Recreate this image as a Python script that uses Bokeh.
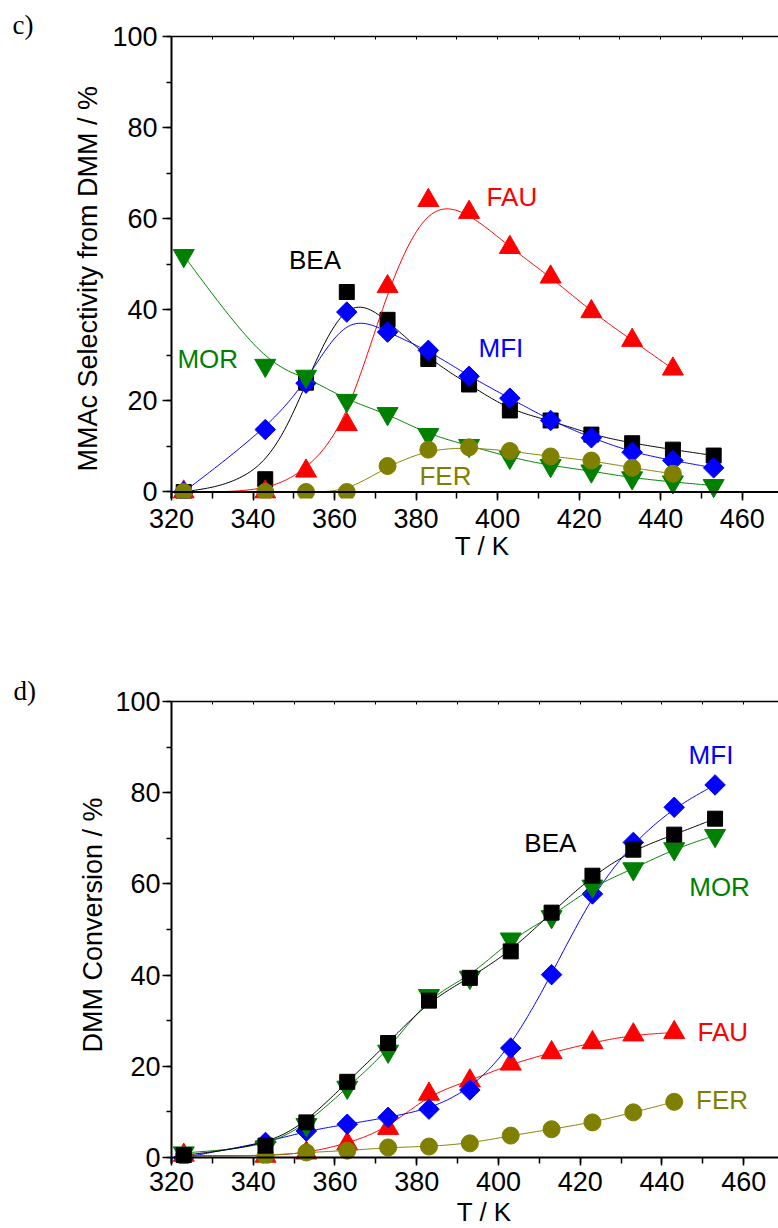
import numpy as np
from bokeh.plotting import figure
from bokeh.models import Range1d, SingleIntervalTicker, FixedTicker, LinearAxis, Span, Label, Title
from bokeh.layouts import column
from bokeh.embed import file_html
from bokeh.resources import INLINE

# ---------------- data ----------------
T = [323, 343, 353, 363, 373, 383, 393, 403, 413, 423, 433, 443, 453]

# c) MMAc selectivity from DMM / %
sel_BEA = [0.0, 2.8, 24.0, 43.9, 37.8, 29.2, 23.6, 17.9, 15.7, 12.6, 10.7, 9.3, 8.0]
sel_FAU = [0.0, 0.0, 4.6, 14.8, 45.1, 64.0, 61.4, 53.7, 47.2, 39.6, 33.3, 27.0]
sel_MFI = [0.0, 13.7, 23.9, 39.5, 35.1, 31.1, 25.4, 20.6, 15.7, 11.9, 8.7, 6.9, 5.3]
sel_MOR = [51.9, 27.8, 25.4, 20.1, 17.2, 12.6, 10.2, 7.6, 5.8, 4.6, 3.1, 2.2, 1.4]
sel_FER = [0.0, 0.0, 0.0, 0.0, 5.7, 9.3, 9.8, 9.0, 7.8, 6.9, 5.3, 4.0]

# d) DMM conversion / %
conv_BEA = [0.5, 2.6, 7.7, 16.6, 25.1, 34.4, 39.4, 45.2, 53.7, 61.8, 67.5, 70.8, 74.3]
conv_MOR = [1.0, 2.3, 7.2, 15.4, 23.3, 35.5, 39.5, 47.9, 52.8, 59.5, 63.3, 67.7, 70.6]
conv_MFI = [0.0, 3.3, 5.8, 7.3, 8.8, 10.6, 14.8, 24.0, 40.1, 57.8, 69.1, 76.8, 81.7]
conv_FAU = [0.5, 0.3, 1.0, 3.0, 6.4, 13.9, 16.8, 20.5, 23.0, 25.2, 26.9, 27.4]
conv_FER = [0.3, 0.4, 1.1, 1.5, 2.2, 2.4, 3.1, 4.8, 6.2, 7.7, 9.9, 12.2]

COL = {"BEA": "#000000", "FAU": "#FF0000", "MFI": "#0000FF", "MOR": "#008000", "FER": "#808000"}
MARK = {"BEA": ("square", 15, 0.0), "FAU": ("triangle", 21, 0.0), "MFI": ("square", 14.5, np.pi / 4),
        "MOR": ("inverted_triangle", 21, 0.0), "FER": ("circle", 17, 0.0)}

# label positions (data coords)
lab_sel = {"BEA": (355.2, 50.9), "MOR": (328.9, 29.2), "MFI": (400.8, 31.7), "FAU": (403.5, 64.7), "FER": (387.2, 3.5)}
lab_conv = {"BEA": (412.7, 68.9), "MFI": (452.0, 88.2), "MOR": (454.1, 59.3), "FAU": (454.9, 27.5), "FER": (454.7, 12.5)}

SANS = "Liberation Sans"
NB = "\u00a0"


def bspline(xs, ys, n=24):
    P = np.column_stack([xs, ys]).astype(float)
    P = np.vstack([P[0], P[0], P, P[-1], P[-1]])
    t = np.linspace(0, 1, n, endpoint=False)[:, None]
    b0 = (1 - t) ** 3 / 6
    b1 = (3 * t ** 3 - 6 * t ** 2 + 4) / 6
    b2 = (-3 * t ** 3 + 3 * t ** 2 + 3 * t + 1) / 6
    b3 = t ** 3 / 6
    out = []
    for i in range(len(P) - 3):
        p0, p1, p2, p3 = P[i:i + 4]
        out.append(b0 * p0 + b1 * p1 + b2 * p2 + b3 * p3)
    out.append(P[-1][None, :])
    pts = np.vstack(out)
    return pts[:, 0], pts[:, 1]


def make_fig(panel, ylabel, xlabel, border_left, frame_width, x_end, border_top, frame_height, y_start,
             border_bottom, ystand, ylab_stand, xstand, xlab_stand, title_offset, title_standoff):
    p = figure(output_backend="svg", toolbar_location=None,
               frame_width=frame_width, frame_height=frame_height,
               min_border_left=border_left, min_border_right=0,
               min_border_top=border_top, min_border_bottom=border_bottom,
               x_range=Range1d(320, x_end), y_range=Range1d(y_start, 100),
               background_fill_color="white", border_fill_color="white")
    p.outline_line_color = None
    p.xgrid.visible = False
    p.ygrid.visible = False

    xa = p.xaxis[0]
    xa.ticker = SingleIntervalTicker(interval=20, num_minor_ticks=2)
    xa.axis_line_color = None
    xa.major_tick_in = 6
    xa.major_tick_out = 2
    xa.minor_tick_in = 6
    xa.minor_tick_out = 0
    xa.major_tick_line_width = 1.5
    xa.minor_tick_line_width = 1.5
    xa.major_tick_line_color = "black"
    xa.minor_tick_line_color = "black"
    xa.major_label_text_font = SANS
    xa.major_label_text_font_size = "27px"
    xa.major_label_text_color = "black"
    xa.major_label_standoff = xstand
    xa.axis_label = xlabel
    xa.axis_label_text_font = SANS
    xa.axis_label_text_font_size = "26px"
    xa.axis_label_text_font_style = "normal"
    xa.axis_label_text_color = "black"
    xa.axis_label_standoff = xlab_stand

    ya = p.yaxis[0]
    ya.ticker = SingleIntervalTicker(interval=20, num_minor_ticks=2)
    ya.axis_line_width = 2
    ya.axis_line_color = "black"
    ya.major_tick_in = 0
    ya.major_tick_out = 9
    ya.minor_tick_in = 0
    ya.minor_tick_out = 5
    ya.major_tick_line_width = 1.5
    ya.minor_tick_line_width = 1.5
    ya.major_label_text_font = SANS
    ya.major_label_text_font_size = "27px"
    ya.major_label_text_color = "black"
    ya.major_label_standoff = ystand
    ya.axis_label = ylabel
    ya.axis_label_text_font = SANS
    ya.axis_label_text_font_size = "27px"
    ya.axis_label_text_font_style = "normal"
    ya.axis_label_text_color = "black"
    ya.axis_label_standoff = ylab_stand

    top = LinearAxis(ticker=FixedTicker(ticks=[], minor_ticks=list(range(330, 470, 10))))
    top.axis_line_width = 1.5
    top.axis_line_color = "black"
    top.minor_tick_in = 3
    top.minor_tick_out = 0
    top.major_tick_in = 0
    top.major_tick_out = 0
    p.add_layout(top, "above")

    p.add_layout(Title(text=panel, align="left", offset=title_offset, standoff=title_standoff,
                       text_font="Liberation Serif", text_font_size="27px",
                       text_font_style="normal", text_color="black"), "above")

    p.add_layout(Span(location=0, dimension="width", line_color="black", line_width=2))
    return p


def draw(p, order, data, labels):
    for name in order:
        ys = data[name]
        xs = T[:len(ys)]
        cx, cy = bspline(xs, ys)
        p.line(cx, cy, line_color=COL[name], line_width=1)
        m, s, a = MARK[name]
        p.scatter(xs, ys, marker=m, size=s, angle=a, fill_color=COL[name], line_color=COL[name])
    for name, (lx, ly) in labels.items():
        p.add_layout(Label(x=lx, y=ly, text=name, text_align="center", text_baseline="alphabetic",
                           text_font=SANS, text_font_size="26px", text_color=COL[name]))


# ---------------- panel c ----------------
p1 = make_fig("c)", "MMAc Selectivity from DMM / %" + NB * 3, NB * 2 + "T / K",
              171, 607, 468.9, 36, 462, -1.43, 93, 5, 6, 8, 0, -159, -7)
draw(p1, ["BEA", "FAU", "MFI", "MOR", "FER"],
     {"BEA": sel_BEA, "FAU": sel_FAU, "MFI": sel_MFI, "MOR": sel_MOR, "FER": sel_FER}, lab_sel)

# ---------------- panel d ----------------
p2 = make_fig("d)", NB * 2 + "DMM Conversion / %", NB * 2 + "T / K",
              167, 611, 469.5, 110, 462, -1.316, 65, 2, 4, 6, 3, -158, -8)
draw(p2, ["FAU", "MFI", "MOR", "FER", "BEA"],
     {"BEA": conv_BEA, "FAU": conv_FAU, "MFI": conv_MFI, "MOR": conv_MOR, "FER": conv_FER}, lab_conv)

layout = column(p1, p2, spacing=0)
open("out.html", "w").write(file_html(layout, INLINE))
